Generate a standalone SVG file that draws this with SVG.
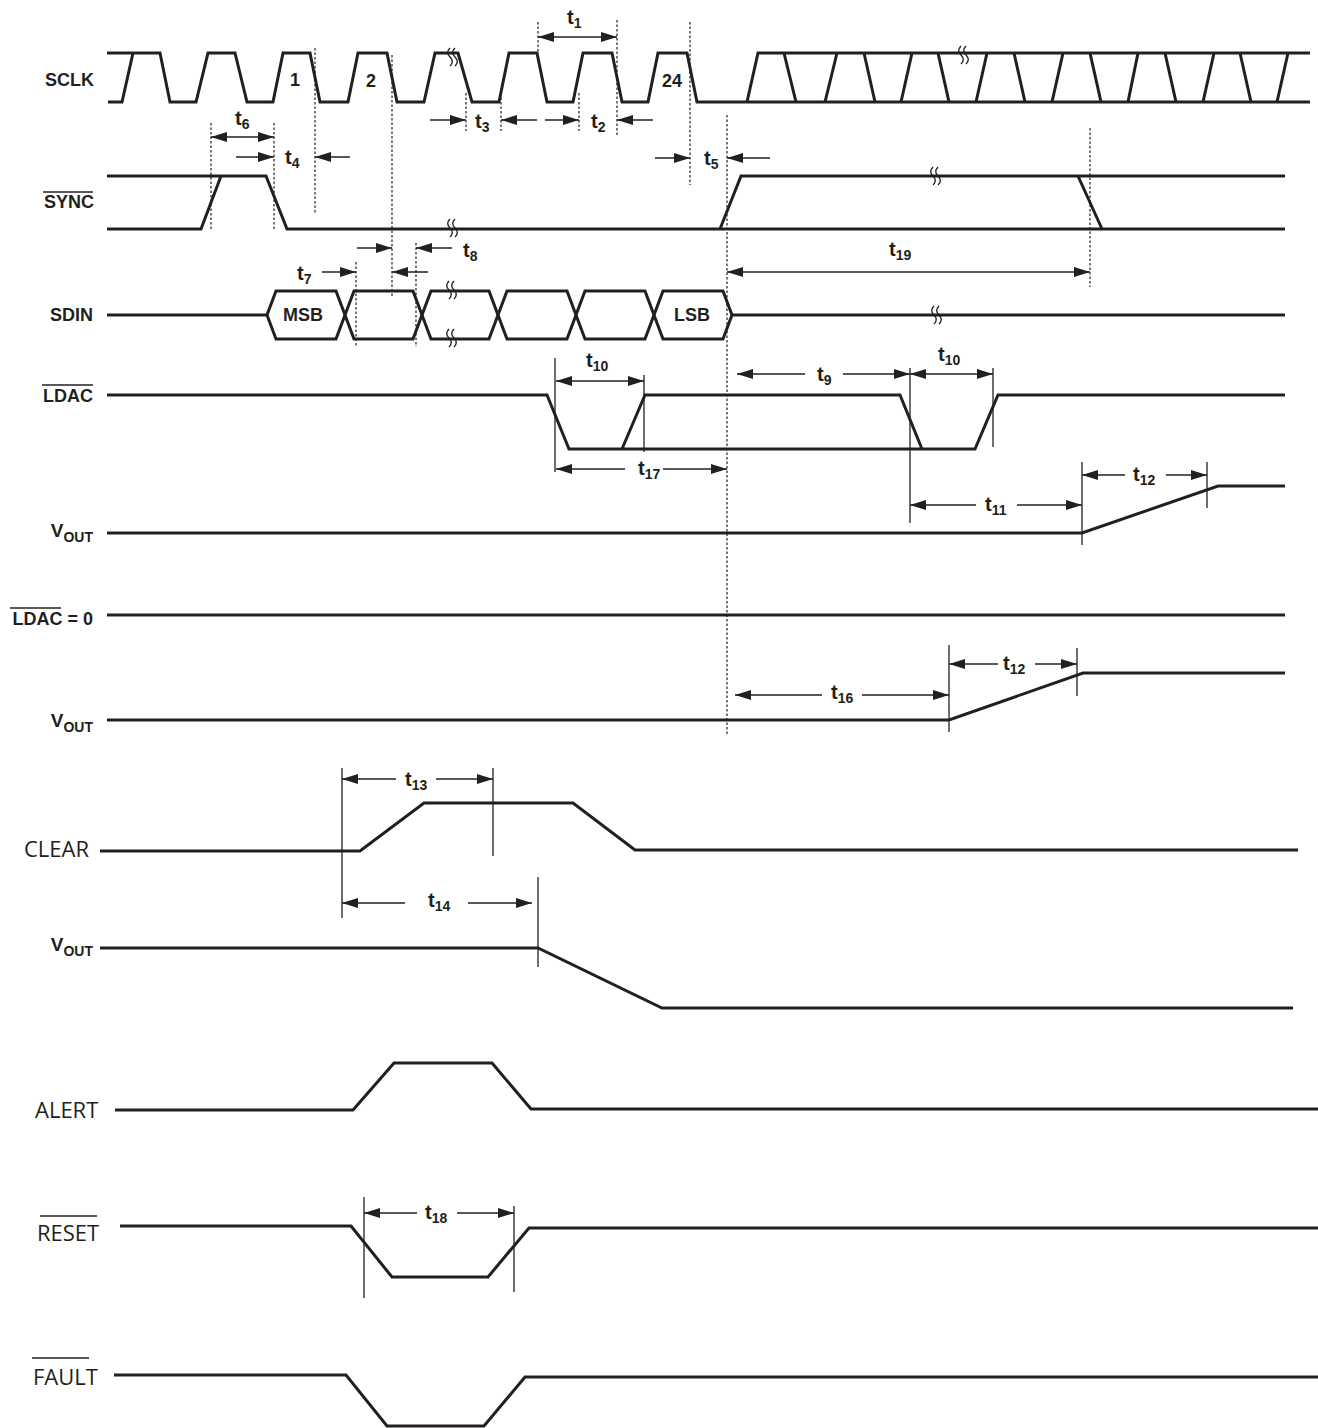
<svg xmlns="http://www.w3.org/2000/svg" xmlns:xlink="http://www.w3.org/1999/xlink" width="1318" height="1428" viewBox="0 0 1318 1428">
<style>
.bg{fill:#fff}
.sig{fill:none;stroke:#231f20;stroke-width:3;stroke-linejoin:miter}
.dot{stroke:#231f20;stroke-width:1.2;stroke-dasharray:2.5,2}
.ext{stroke:#231f20;stroke-width:1.3}
.arr{stroke:#231f20;stroke-width:1.6;fill:none}
.ovl{stroke:#231f20;stroke-width:1.6}
.lab{font-family:"Liberation Sans",Arial,sans-serif;font-weight:bold;font-size:18px;fill:#231f20}
.tl{font-family:"Liberation Sans",Arial,sans-serif;font-weight:bold;font-size:20px;fill:#231f20}
.sub{font-size:14px}
.lab2{font-family:"Open Sans","Noto Sans",sans-serif;font-size:22px;fill:#231f20}
.brk{fill:none;stroke:#231f20;stroke-width:1.4}
</style>
<defs>
<marker id="ah" viewBox="0 0 16 10" refX="16" refY="5" markerWidth="16" markerHeight="10" markerUnits="userSpaceOnUse" orient="auto-start-reverse"><path d="M0,0 L16,5 L0,10 z" fill="#231f20"/></marker>
<g id="bk"><path class="brk" d="M-1,-9 c-3,3 -3,6 0,9 c3,3 3,6 0,9"/><path class="brk" d="M4,-9 c-3,3 -3,6 0,9 c3,3 3,6 0,9"/></g>
</defs>
<rect class="bg" width="1318" height="1428"/>

<g id="SCLK">
<text class="lab" x="94" y="86" text-anchor="end">SCLK</text>
<path class="sig" d="M107,53 H160 L170,102 H196 L208,53 H235 L247,102 H273 L283,53 H310 L320,102 H348 L358,53 H387 L397,102 H424 L435,53 H458 L472,102 H499 L509,53 H537 L547,102 H573 L583,53 H612 L622,102 H648 L658,53 H687 L697,102 H1310"/>
<path class="sig" d="M108,102 H122 L133,53"/>
<path class="sig" d="M747,102 L758,53 H1310 M784,53 L796,102 M825,102 L837,53 M864,53 L875,102 M901,102 L912,53 M938,53 L949,102 M976,102 L987,53 M1014,53 L1025,102 M1052,102 L1063,53 M1090,53 L1101,102 M1128,102 L1138,53 M1165,53 L1176,102 M1203,102 L1214,53 M1240,53 L1251,102 M1277,102 L1288,53"/>
<text class="lab" x="290" y="86">1</text>
<text class="lab" x="366" y="87">2</text>
<text class="lab" x="662" y="87">24</text>
<use xlink:href="#bk" x="451" y="57"/>
<use xlink:href="#bk" x="962" y="55"/>
</g>

<g id="SYNC">
<text class="lab" x="94" y="208" text-anchor="end">SYNC</text>
<line class="ovl" x1="43" y1="192" x2="93" y2="192"/>
<path class="sig" d="M107,176 H266 L287,229 H1285 M107,229 H201 L221,176 M720,229 L741,176 H1285 M1078,176 L1102,229"/>
<use xlink:href="#bk" x="451" y="228"/>
<use xlink:href="#bk" x="934" y="176"/>
</g>

<g id="SDIN">
<text class="lab" x="93" y="321" text-anchor="end">SDIN</text>
<path class="sig" d="M107,315 H267 M732,315 H1285"/>
<path class="sig" d="M267,315 L276,291 H336 L354,339 H413 L431,291 H489 L507,339 H567 L585,291 H645 L663,339 H723 L732,315"/>
<path class="sig" d="M267,315 L276,339 H336 L354,291 H413 L431,339 H489 L507,291 H567 L585,339 H645 L663,291 H723 L732,315"/>
<text class="lab" x="303" y="321" text-anchor="middle">MSB</text>
<text class="lab" x="692" y="321" text-anchor="middle">LSB</text>
<use xlink:href="#bk" x="450" y="290"/>
<use xlink:href="#bk" x="450" y="338"/>
<use xlink:href="#bk" x="935" y="315"/>
</g>

<g id="LDAC">
<text class="lab" x="93" y="402" text-anchor="end">LDAC</text>
<line class="ovl" x1="42" y1="385" x2="93" y2="385"/>
<path class="sig" d="M107,395 H547 L569,449 H975 L998,395 H1285 M622,449 L645,395 H900 L922,449"/>
</g>

<g id="VOUT1">
<text class="lab" x="93" y="537" text-anchor="end"><tspan font-size="19">V</tspan><tspan class="sub" dy="5">OUT</tspan></text>
<path class="sig" d="M107,533 H1082 L1218,486 H1285"/>
</g>

<g id="LDAC0">
<text class="lab" x="93" y="625" text-anchor="end">LDAC = 0</text>
<line class="ovl" x1="10" y1="608" x2="61" y2="608"/>
<path class="sig" d="M107,615 H1285"/>
</g>

<g id="VOUT2">
<text class="lab" x="93" y="727" text-anchor="end"><tspan font-size="19">V</tspan><tspan class="sub" dy="5">OUT</tspan></text>
<path class="sig" d="M107,720 H949 L1083,673 H1285"/>
</g>

<g id="CLEAR">
<text class="lab2" x="24" y="857">CLEAR</text>
<path class="sig" d="M100,851 H360 L424,803 H573 L635,850 H1298"/>
</g>

<g id="VOUT3">
<text class="lab" x="93" y="951" text-anchor="end"><tspan font-size="19">V</tspan><tspan class="sub" dy="5">OUT</tspan></text>
<path class="sig" d="M100,948 H538 L662,1008 H1293"/>
</g>

<g id="ALERT">
<text class="lab2" x="35" y="1118">ALERT</text>
<path class="sig" d="M115,1110 H353 L394,1063 H492 L531,1109 H1318"/>
</g>

<g id="RESET">
<text class="lab2" x="37" y="1241">RESET</text>
<line class="ovl" x1="40" y1="1216" x2="97" y2="1216"/>
<path class="sig" d="M120,1226 H351 L392,1277 H488 L529,1228 H1318"/>
</g>

<g id="FAULT">
<text class="lab2" x="33" y="1385">FAULT</text>
<line class="ovl" x1="32" y1="1358" x2="89" y2="1358"/>
<path class="sig" d="M114,1375 H346 L387,1426 H484 L525,1377 H1318"/>
</g>

<g id="connectors">
<g id="dotted">
<line class="dot" x1="211" y1="123" x2="211" y2="230"/>
<line class="dot" x1="274" y1="123" x2="274" y2="230"/>
<line class="dot" x1="315" y1="48" x2="315" y2="213"/>
<line class="dot" x1="392" y1="55" x2="392" y2="297"/>
<line class="dot" x1="466" y1="93" x2="466" y2="131"/>
<line class="dot" x1="501" y1="93" x2="501" y2="131"/>
<line class="dot" x1="579" y1="93" x2="579" y2="131"/>
<line class="dot" x1="617" y1="20" x2="617" y2="137"/>
<line class="dot" x1="538" y1="22" x2="538" y2="53"/>
<line class="dot" x1="690" y1="22" x2="690" y2="185"/>
<line class="dot" x1="727" y1="115" x2="727" y2="735"/>
<line class="dot" x1="1090" y1="128" x2="1090" y2="287"/>
<line class="dot" x1="356" y1="262" x2="356" y2="347"/>
<line class="dot" x1="416" y1="243" x2="416" y2="347"/>
</g>
<g id="extension">
<line class="ext" x1="555" y1="358" x2="555" y2="472"/>
<line class="ext" x1="644" y1="375" x2="644" y2="452"/>
<line class="ext" x1="910" y1="368" x2="910" y2="523"/>
<line class="ext" x1="993" y1="368" x2="993" y2="447"/>
<line class="ext" x1="1082" y1="462" x2="1082" y2="545"/>
<line class="ext" x1="1207" y1="462" x2="1207" y2="508"/>
<line class="ext" x1="949" y1="645" x2="949" y2="732"/>
<line class="ext" x1="1077" y1="648" x2="1077" y2="696"/>
<line class="ext" x1="342" y1="768" x2="342" y2="918"/>
<line class="ext" x1="493" y1="768" x2="493" y2="856"/>
<line class="ext" x1="538" y1="877" x2="538" y2="967"/>
<line class="ext" x1="364" y1="1197" x2="364" y2="1298"/>
<line class="ext" x1="514" y1="1206" x2="514" y2="1292"/>
</g>
<g id="arrows" marker-end="url(#ah)">
<line class="arr" x1="538" y1="37" x2="617" y2="37" marker-start="url(#ah)" marker-end="url(#ah)"/>
<line class="arr" x1="211" y1="137" x2="274" y2="137" marker-start="url(#ah)" marker-end="url(#ah)"/>
<line class="arr" x1="236" y1="157" x2="274" y2="157" marker-end="url(#ah)"/>
<line class="arr" x1="350" y1="157" x2="315" y2="157" marker-end="url(#ah)"/>
<line class="arr" x1="430" y1="120" x2="466" y2="120" marker-end="url(#ah)"/>
<line class="arr" x1="537" y1="120" x2="501" y2="120" marker-end="url(#ah)"/>
<line class="arr" x1="545" y1="120" x2="579" y2="120" marker-end="url(#ah)"/>
<line class="arr" x1="653" y1="120" x2="617" y2="120" marker-end="url(#ah)"/>
<line class="arr" x1="655" y1="158" x2="690" y2="158" marker-end="url(#ah)"/>
<line class="arr" x1="770" y1="158" x2="727" y2="158" marker-end="url(#ah)"/>
<line class="arr" x1="322" y1="272" x2="356" y2="272" marker-end="url(#ah)"/>
<line class="arr" x1="428" y1="272" x2="392" y2="272" marker-end="url(#ah)"/>
<line class="arr" x1="357" y1="248" x2="392" y2="248" marker-end="url(#ah)"/>
<line class="arr" x1="452" y1="248" x2="416" y2="248" marker-end="url(#ah)"/>
<line class="arr" x1="727" y1="272" x2="1090" y2="272" marker-start="url(#ah)" marker-end="url(#ah)"/>
<line class="arr" x1="556" y1="381" x2="644" y2="381" marker-start="url(#ah)" marker-end="url(#ah)"/>
<line class="arr" x1="625" y1="469" x2="556" y2="469" marker-end="url(#ah)"/>
<line class="arr" x1="663" y1="469" x2="727" y2="469" marker-end="url(#ah)"/>
<line class="arr" x1="805" y1="374" x2="737" y2="374" marker-end="url(#ah)"/>
<line class="arr" x1="843" y1="374" x2="910" y2="374" marker-end="url(#ah)"/>
<line class="arr" x1="910" y1="374" x2="993" y2="374" marker-start="url(#ah)" marker-end="url(#ah)"/>
<line class="arr" x1="976" y1="505" x2="910" y2="505" marker-end="url(#ah)"/>
<line class="arr" x1="1017" y1="505" x2="1082" y2="505" marker-end="url(#ah)"/>
<line class="arr" x1="1125" y1="475" x2="1082" y2="475" marker-end="url(#ah)"/>
<line class="arr" x1="1166" y1="475" x2="1207" y2="475" marker-end="url(#ah)"/>
<line class="arr" x1="998" y1="664" x2="949" y2="664" marker-end="url(#ah)"/>
<line class="arr" x1="1035" y1="664" x2="1077" y2="664" marker-end="url(#ah)"/>
<line class="arr" x1="822" y1="695" x2="735" y2="695" marker-end="url(#ah)"/>
<line class="arr" x1="862" y1="695" x2="949" y2="695" marker-end="url(#ah)"/>
<line class="arr" x1="396" y1="779" x2="342" y2="779" marker-end="url(#ah)"/>
<line class="arr" x1="436" y1="779" x2="493" y2="779" marker-end="url(#ah)"/>
<line class="arr" x1="405" y1="903" x2="342" y2="903" marker-end="url(#ah)"/>
<line class="arr" x1="468" y1="903" x2="532" y2="903" marker-end="url(#ah)"/>
<line class="arr" x1="417" y1="1213" x2="364" y2="1213" marker-end="url(#ah)"/>
<line class="arr" x1="457" y1="1213" x2="514" y2="1213" marker-end="url(#ah)"/>
</g>
<g id="tlabels">
<text class="tl" x="567" y="24">t<tspan class="sub" dy="4">1</tspan></text>
<text class="tl" x="235" y="125">t<tspan class="sub" dy="4">6</tspan></text>
<text class="tl" x="285" y="164">t<tspan class="sub" dy="4">4</tspan></text>
<text class="tl" x="475" y="128">t<tspan class="sub" dy="4">3</tspan></text>
<text class="tl" x="591" y="128">t<tspan class="sub" dy="4">2</tspan></text>
<text class="tl" x="704" y="165">t<tspan class="sub" dy="4">5</tspan></text>
<text class="tl" x="297" y="280">t<tspan class="sub" dy="4">7</tspan></text>
<text class="tl" x="463" y="257">t<tspan class="sub" dy="4">8</tspan></text>
<text class="tl" x="889" y="256">t<tspan class="sub" dy="4">19</tspan></text>
<text class="tl" x="586" y="367">t<tspan class="sub" dy="4">10</tspan></text>
<text class="tl" x="638" y="475">t<tspan class="sub" dy="4">17</tspan></text>
<text class="tl" x="817" y="381">t<tspan class="sub" dy="4">9</tspan></text>
<text class="tl" x="938" y="361">t<tspan class="sub" dy="4">10</tspan></text>
<text class="tl" x="985" y="511">t<tspan class="sub" dy="4">11</tspan></text>
<text class="tl" x="1133" y="481">t<tspan class="sub" dy="4">12</tspan></text>
<text class="tl" x="1003" y="670">t<tspan class="sub" dy="4">12</tspan></text>
<text class="tl" x="831" y="699">t<tspan class="sub" dy="4">16</tspan></text>
<text class="tl" x="405" y="786">t<tspan class="sub" dy="4">13</tspan></text>
<text class="tl" x="428" y="907">t<tspan class="sub" dy="4">14</tspan></text>
<text class="tl" x="425" y="1219">t<tspan class="sub" dy="4">18</tspan></text>
</g>
</g>
</svg>
